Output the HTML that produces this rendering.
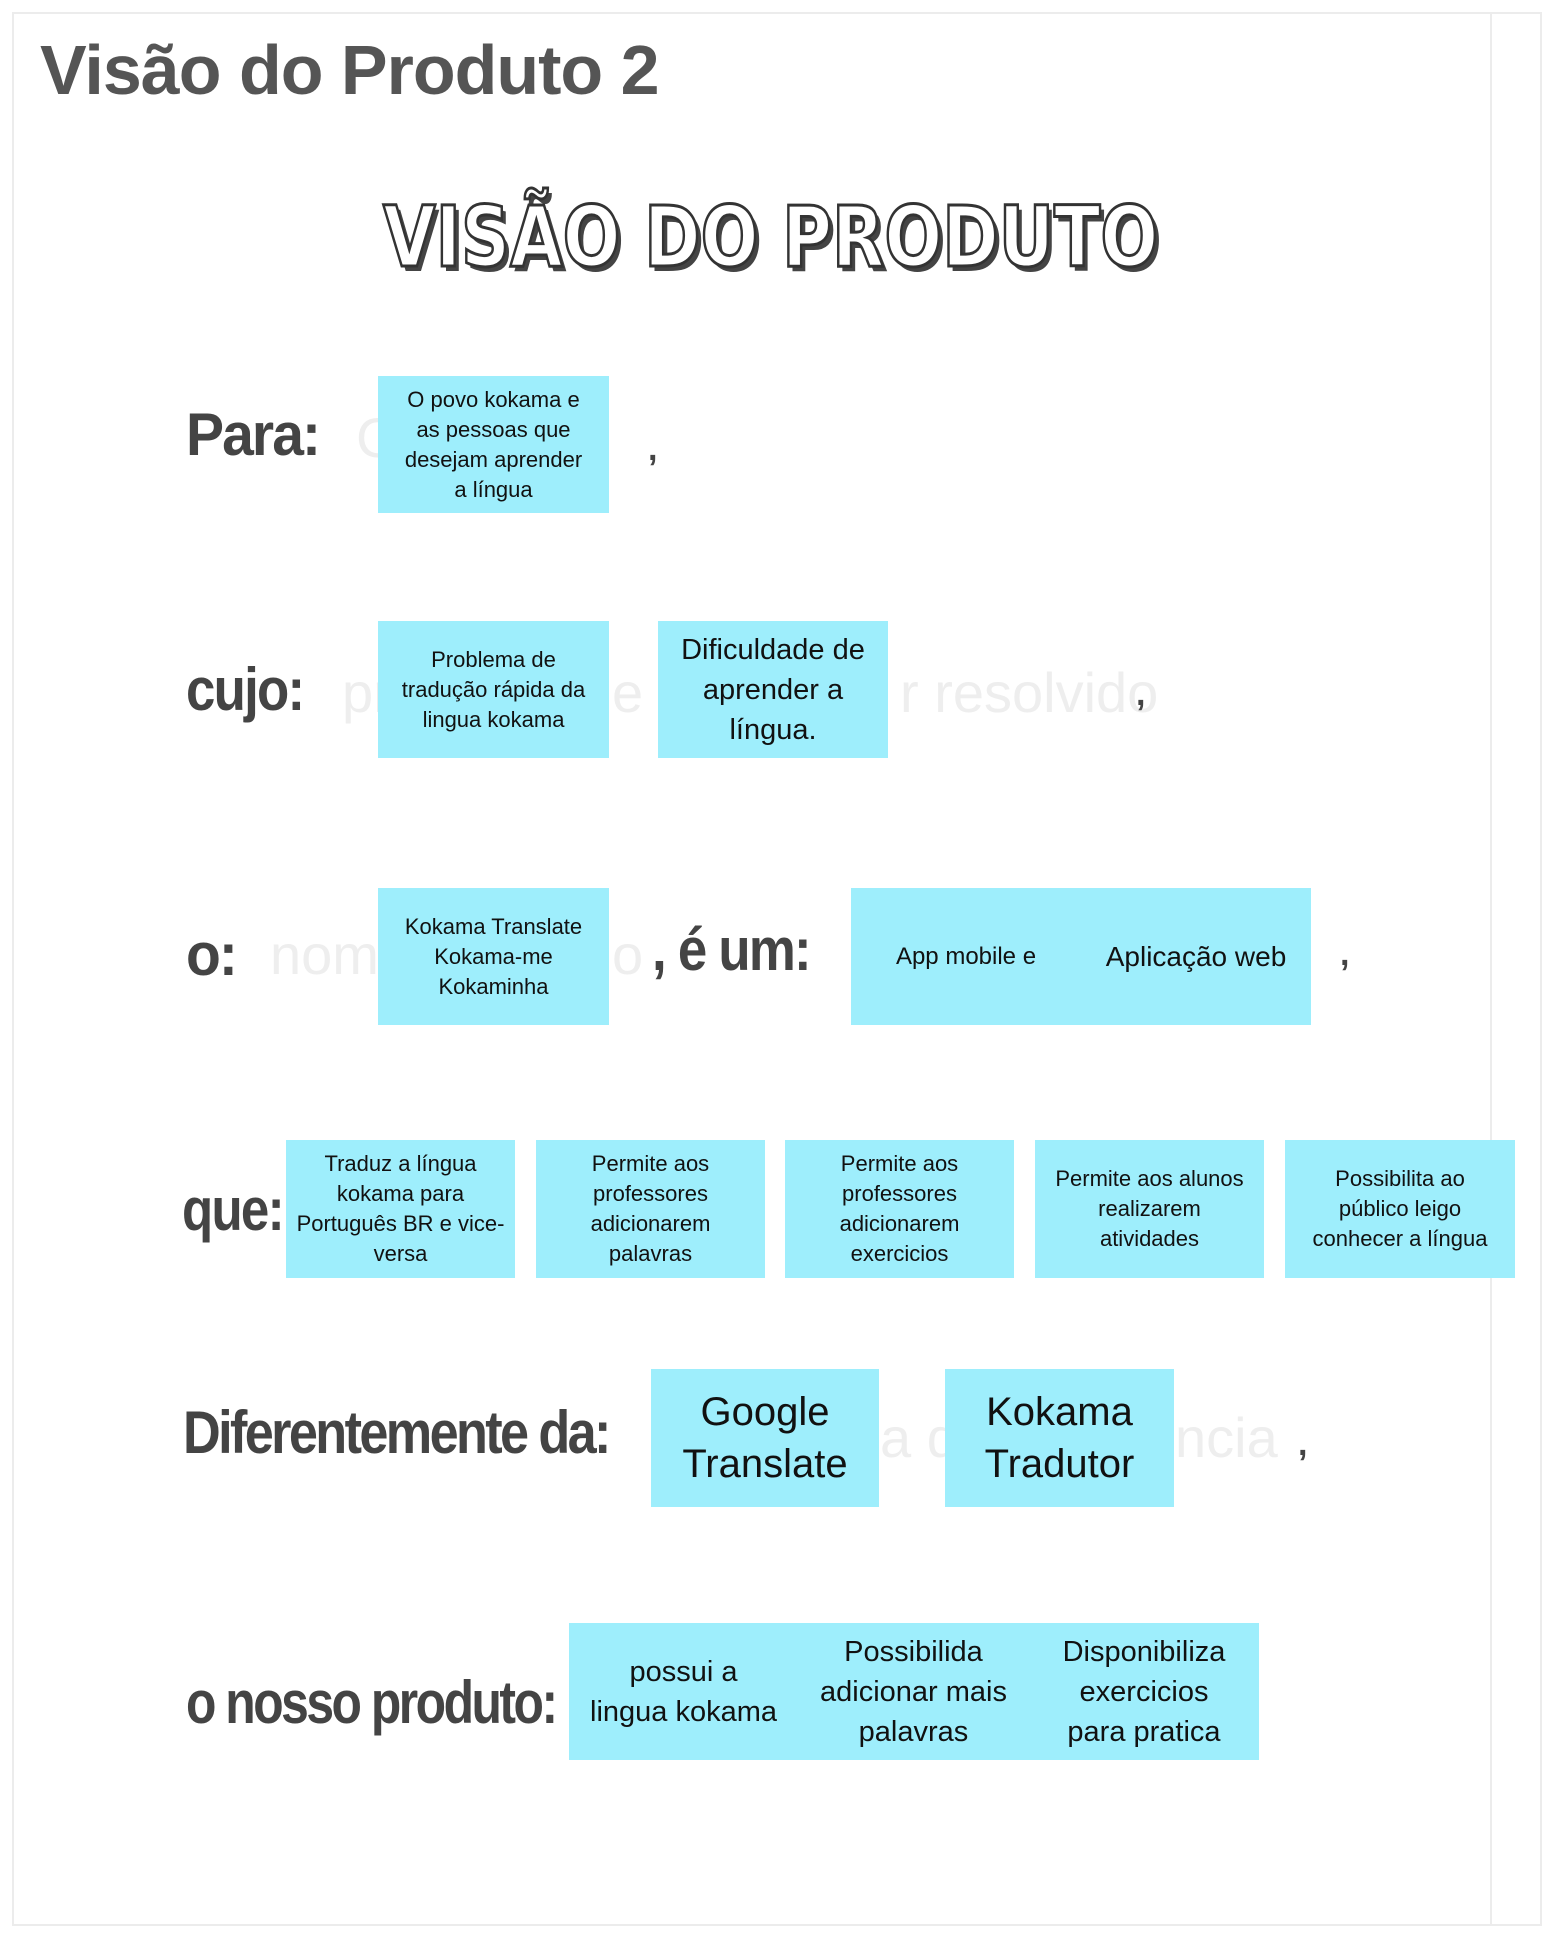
<!DOCTYPE html>
<html><head><meta charset="utf-8"><style>
body{margin:0;width:1556px;height:1939px;background:#fff;position:relative;overflow:hidden;font-family:"Liberation Sans",sans-serif}
.frame{position:absolute;left:12px;top:12px;width:1530px;height:1914px;border:2px solid #ececec;box-sizing:border-box}
.vline{position:absolute;left:1490px;top:12px;width:2px;height:1914px;background:#ececec}
.title{position:absolute;left:40px;top:30px;font-size:70px;font-weight:bold;color:#555;letter-spacing:-1px}
.logo{position:absolute;left:383px;top:188px;white-space:nowrap;font-size:84px;font-weight:bold;color:#fff;-webkit-text-stroke:3px #333;text-shadow:5px 5px 0 #444;font-family:"DejaVu Sans",sans-serif;transform:scaleX(0.81);transform-origin:left}
.b{position:absolute;background:#9eeefc;display:flex;align-items:center;justify-content:center;text-align:center;color:#111;box-sizing:border-box;padding:0 4px;white-space:nowrap}
.s{font-size:22px;line-height:30px}
.m{font-size:29px;line-height:40px}
.l{font-size:40px;line-height:52px}
.lab{position:absolute;font-weight:bold;color:#444;font-size:60px;letter-spacing:-2px;transform:scaleX(0.95);transform-origin:left;white-space:nowrap}
.f{position:absolute;color:#eeeeee;font-size:56px;white-space:nowrap}
.c{position:absolute;color:#444;font-size:34px;font-weight:bold}
</style></head><body>
<div class="frame"></div><div class="vline"></div>
<div class="title">Visão do Produto 2</div>
<div class="logo">VISÃO DO PRODUTO</div>

<div class="lab" style="left:186px;top:400px">Para:</div>
<div class="f" style="left:356px;top:405px">C</div>
<div class="c" style="left:648px;top:430px">,</div>
<div class="b s" style="left:378px;top:376px;width:231px;height:137px">O povo kokama e<br>as pessoas que<br>desejam aprender<br>a língua</div>

<div class="lab" style="left:186px;top:655px;transform:scaleX(0.88)">cujo:</div>
<div class="f" style="left:342px;top:660px">pr</div>
<div class="f" style="left:612px;top:660px">e p</div>
<div class="f" style="left:900px;top:660px">r resolvido</div>
<div class="c" style="left:1136px;top:675px">,</div>
<div class="b s" style="left:378px;top:621px;width:231px;height:137px">Problema de<br>tradução rápida da<br>lingua kokama</div>
<div class="b m" style="left:658px;top:621px;width:230px;height:137px">Dificuldade de<br>aprender a<br>língua.</div>

<div class="lab" style="left:186px;top:920px">o:</div>
<div class="f" style="left:270px;top:922px">nome</div>
<div class="f" style="left:612px;top:922px">o</div>
<div class="lab" style="left:652px;top:915px;transform:scaleX(0.88)">, é um:</div>
<div class="c" style="left:1340px;top:935px">,</div>
<div class="b s" style="left:378px;top:888px;width:231px;height:137px">Kokama Translate<br>Kokama-me<br>Kokaminha</div>
<div class="b s" style="left:851px;top:888px;width:230px;height:137px;font-size:24px">App mobile e</div>
<div class="b m" style="left:1081px;top:888px;width:230px;height:137px;font-size:28px">Aplicação web</div>

<div class="lab" style="left:182px;top:1175px;transform:scaleX(0.85)">que:</div>
<div class="b s" style="left:286px;top:1140px;width:229px;height:138px">Traduz a língua<br>kokama para<br>Português BR e vice-<br>versa</div>
<div class="b s" style="left:536px;top:1140px;width:229px;height:138px">Permite aos<br>professores<br>adicionarem<br>palavras</div>
<div class="b s" style="left:785px;top:1140px;width:229px;height:138px">Permite aos<br>professores<br>adicionarem<br>exercicios</div>
<div class="b s" style="left:1035px;top:1140px;width:229px;height:138px">Permite aos alunos<br>realizarem<br>atividades</div>
<div class="b s" style="left:1285px;top:1140px;width:230px;height:138px">Possibilita ao<br>público leigo<br>conhecer a língua</div>

<div class="lab" style="left:183px;top:1398px;letter-spacing:-3px;transform:scaleX(0.87)">Diferentemente da:</div>
<div class="f" style="left:880px;top:1405px">a de</div>
<div class="f" style="left:1175px;top:1405px">ncia</div>
<div class="c" style="left:1298px;top:1425px">,</div>
<div class="b l" style="left:651px;top:1369px;width:228px;height:138px">Google<br>Translate</div>
<div class="b l" style="left:945px;top:1369px;width:229px;height:138px">Kokama<br>Tradutor</div>

<div class="lab" style="left:186px;top:1668px;letter-spacing:-3px;transform:scaleX(0.83)">o nosso produto:</div>
<div class="b m" style="left:569px;top:1623px;width:229px;height:137px">possui a<br>lingua kokama</div>
<div class="b m" style="left:798px;top:1623px;width:231px;height:137px">Possibilida<br>adicionar mais<br>palavras</div>
<div class="b m" style="left:1029px;top:1623px;width:230px;height:137px">Disponibiliza<br>exercicios<br>para pratica</div>
</body></html>
